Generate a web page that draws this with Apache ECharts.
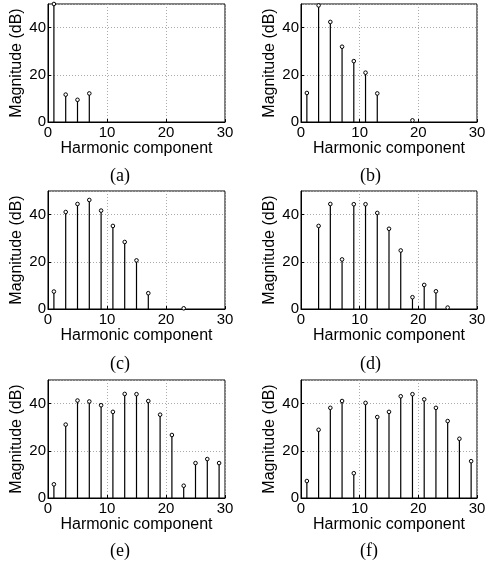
<!DOCTYPE html>
<html>
<head>
<meta charset="utf-8">
<script src="https://cdn.jsdelivr.net/npm/echarts@6/dist/echarts.min.js"></script>
<style>html,body{margin:0;padding:0;background:#fff;}#c{width:491px;height:565px;}</style>
</head>
<body>
<div id="c"></div>
<script>
// Harmonic orders
const harmonicsA = [1, 3, 5, 7];
const magA = [50, 11.6, 9.4, 12.1];
const harmonicsB = [1, 3, 5, 7, 9, 11, 13, 19];
const magB = [12.3, 49.4, 42.4, 31.9, 25.8, 20.9, 12.1, 0.7];
const harmonicsC = [1, 3, 5, 7, 9, 11, 13, 15, 17, 23];
const magC = [7.4, 41.1, 44.5, 46.2, 41.7, 35.2, 28.4, 20.6, 6.7, 0.3];
const harmonicsD = [3, 5, 7, 9, 11, 13, 15, 17, 19, 21, 23, 25];
const magD = [35.2, 44.5, 21.0, 44.4, 44.4, 40.7, 34.0, 24.8, 5.0, 10.2, 7.5, 0.6];
const harmonicsE = [1, 3, 5, 7, 9, 11, 13, 15, 17, 19, 21, 23, 25, 27, 29];
const magE = [5.8, 31.1, 41.3, 40.9, 39.3, 36.5, 44.1, 44.0, 41.1, 35.3, 26.7, 5.2, 14.8, 16.5, 14.8];
const harmonicsF = [1, 3, 5, 7, 9, 11, 13, 15, 17, 19, 21, 23, 25, 27, 29];
const magF = [7.2, 28.9, 38.2, 41.1, 10.5, 40.3, 34.3, 36.5, 43.1, 44.0, 41.8, 38.2, 32.6, 25.1, 15.6];
const panelLabels = ['(a)', '(b)', '(c)', '(d)', '(e)', '(f)'];
const xAxisName = 'Harmonic component';
const yAxisName = 'Magnitude (dB)';

const panels = [
  [harmonicsA, magA], [harmonicsB, magB], [harmonicsC, magC],
  [harmonicsD, magD], [harmonicsE, magE], [harmonicsF, magF]
];

const lefts = [48, 301];
const widths = [177, 176];
const tops = [4, 191, 380];
const heights = [118, 118, 118];
const labelX = [123, 373];
const labelY = [178, 366, 553];

const SANS = '"Liberation Sans", Arial, Helvetica, sans-serif';
const SERIF = '"Liberation Serif", "Times New Roman", serif';

const grid = [], xAxis = [], yAxis = [], series = [], graphic = [];
panels.forEach((p, i) => {
  const col = i % 2, row = Math.floor(i / 2);
  grid.push({left: lefts[col], top: tops[row], width: widths[col], height: heights[row],
    show: true, borderColor: '#000', borderWidth: 1, backgroundColor: '#fff', containLabel: false});
  xAxis.push({type: 'value', gridIndex: i, min: 0, max: 30, interval: 10,
    name: xAxisName, nameLocation: 'middle', nameGap: 15,
    nameTextStyle: {fontFamily: SANS, fontSize: 16, color: '#000'},
    axisLine: {show: true, lineStyle: {color: '#000', width: 1}},
    axisTick: {show: true, inside: true, length: 3, lineStyle: {color: '#000'}},
    axisLabel: {fontFamily: SANS, fontSize: 15, color: '#000', margin: 3},
    splitLine: {show: true, lineStyle: {color: '#aaa', type: [1, 2], width: 1}}
  });
  yAxis.push({type: 'value', gridIndex: i, min: 0, max: 50, interval: 20,
    name: yAxisName, nameLocation: 'middle', nameGap: 23, nameRotate: 90,
    nameTextStyle: {fontFamily: SANS, fontSize: 16, color: '#000'},
    axisLine: {show: true, lineStyle: {color: '#000', width: 1}},
    axisTick: {show: true, inside: true, length: 3, lineStyle: {color: '#000'}},
    axisLabel: {fontFamily: SANS, fontSize: 15, color: '#000', margin: 2, showMaxLabel: false},
    splitLine: {show: true, lineStyle: {color: '#aaa', type: [1, 2], width: 1}}
  });
  const data = p[0].map((h, k) => [h, p[1][k]]);
  series.push({
    type: 'custom', xAxisIndex: i, yAxisIndex: i, data: data, clip: false,
    renderItem: function (params, api) {
      const top = api.coord([api.value(0), api.value(1)]);
      const base = api.coord([api.value(0), 0]);
      return {type: 'group', children: [
        {type: 'line', shape: {x1: base[0], y1: base[1], x2: top[0], y2: top[1]},
          style: {stroke: '#000', lineWidth: 1.2}},
        {type: 'circle', shape: {cx: top[0], cy: top[1], r: 1.8},
          style: {fill: '#fff', stroke: '#000', lineWidth: 1}}
      ]};
    }
  });
  graphic.push({type: 'text', left: labelX[col] - 13, top: labelY[row] - 11,
    style: {text: panelLabels[i], font: '18px ' + SERIF, fill: '#000'}});
});

const chart = echarts.init(document.getElementById('c'), null, {renderer: 'canvas'});
chart.setOption({animation: false, backgroundColor: '#fff', grid, xAxis, yAxis, series, graphic});
</script>
</body>
</html>
